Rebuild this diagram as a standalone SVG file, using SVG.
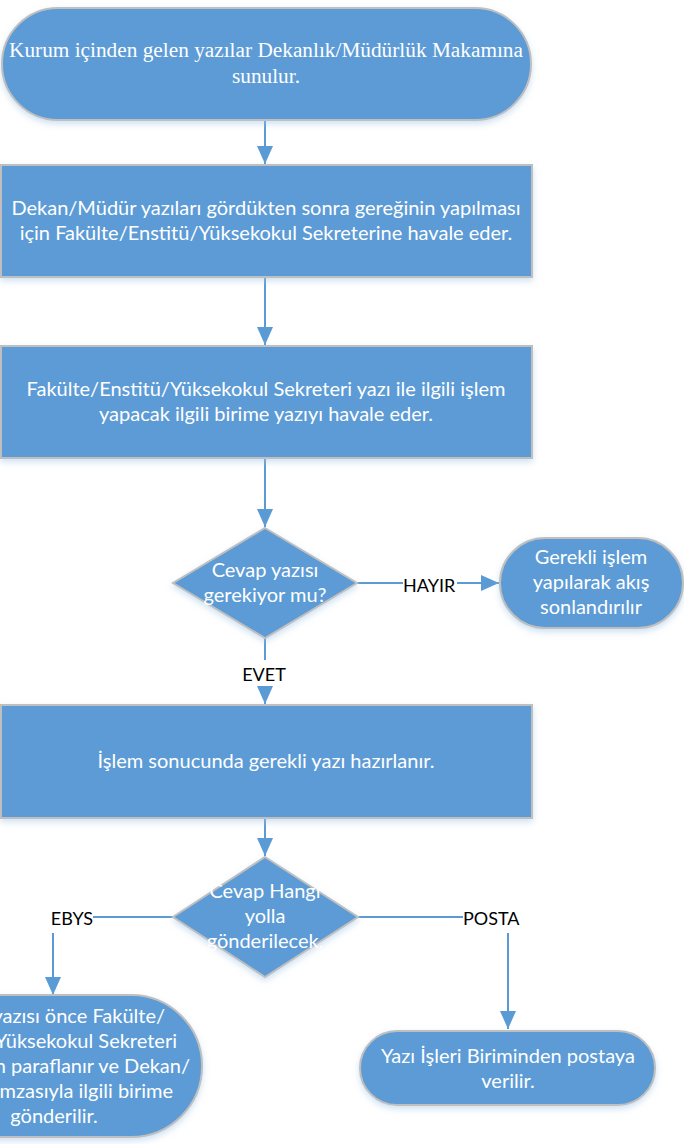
<svg xmlns="http://www.w3.org/2000/svg" width="684" height="1144" viewBox="0 0 684 1144">
<style>
.shape{fill:#5B9BD5;stroke:#BFBFBF;stroke-width:2;filter:url(#sh)}
.t{font-family:Lato,"Liberation Sans",sans-serif;font-size:20px;fill:#FFFFFF;text-anchor:middle}
.te{font-family:Lato,"Liberation Sans",sans-serif;font-size:20px;fill:#FFFFFF;text-anchor:end}
.ts{font-family:"Liberation Serif",serif;font-size:21.3px;fill:#FFFFFF;text-anchor:middle}
.lbl{font-family:Lato,"Liberation Sans",sans-serif;font-size:18px;fill:#000000;dominant-baseline:central}
.c{stroke:#5B9BD5;stroke-width:2;fill:none}
</style>
<defs>
<filter id="sh" x="-10%" y="-10%" width="120%" height="130%">
<feDropShadow dx="0" dy="3" stdDeviation="3" flood-color="#9DC3E6" flood-opacity="0.5"/>
</filter>
<marker id="ah" markerWidth="18" markerHeight="16" refX="18" refY="8" orient="auto" markerUnits="userSpaceOnUse">
<path d="M0,0 L18,8 L0,16 Z" fill="#5B9BD5"/>
</marker>
</defs>
<g id="connectors">
<line class="c" x1="265" y1="121" x2="265" y2="164" marker-end="url(#ah)"/>
<line class="c" x1="265" y1="278" x2="265" y2="345" marker-end="url(#ah)"/>
<line class="c" x1="265" y1="459" x2="265" y2="527" marker-end="url(#ah)"/>
<line class="c" x1="357" y1="583" x2="403" y2="583"/>
<line class="c" x1="457" y1="583" x2="499" y2="583" marker-end="url(#ah)"/>
<text class="lbl" x="403" y="585">HAYIR</text>
<line class="c" x1="265" y1="638" x2="265" y2="660"/>
<text class="lbl" x="264" y="674" text-anchor="middle">EVET</text>
<line class="c" x1="265" y1="688" x2="265" y2="704" marker-end="url(#ah)"/>
<line class="c" x1="265" y1="819" x2="265" y2="856" marker-end="url(#ah)"/>
<line class="c" x1="173" y1="917" x2="93" y2="917"/>
<text class="lbl" x="93" y="918" text-anchor="end">EBYS</text>
<line class="c" x1="53" y1="933" x2="53" y2="995" marker-end="url(#ah)"/>
<line class="c" x1="358" y1="917" x2="463" y2="917"/>
<text class="lbl" x="463" y="918">POSTA</text>
<line class="c" x1="508" y1="933" x2="508" y2="1029" marker-end="url(#ah)"/>
</g>
<g id="n1">
<rect class="shape" x="2" y="8" width="529" height="112" rx="56" ry="56"/>
<text class="ts" x="266" y="57">Kurum içinden gelen yazılar Dekanlık/Müdürlük Makamına</text>
<text class="ts" x="266" y="83">sunulur.</text>
</g>
<g id="n2">
<rect class="shape" x="1" y="165" width="531" height="112"/>
<text class="t" x="266" y="215">Dekan/Müdür yazıları gördükten sonra gereğinin yapılması</text>
<text class="t" x="266" y="240">için Fakülte/Enstitü/Yüksekokul Sekreterine havale eder.</text>
</g>
<g id="n3">
<rect class="shape" x="1" y="346" width="531" height="112"/>
<text class="t" x="266" y="396">Fakülte/Enstitü/Yüksekokul Sekreteri yazı ile ilgili işlem</text>
<text class="t" x="266" y="421">yapacak ilgili birime yazıyı havale eder.</text>
</g>
<g id="d1">
<polygon class="shape" points="265,528 357,583 265,638 173,583"/>
<text class="t" x="265" y="577">Cevap yazısı</text>
<text class="t" x="265" y="602">gerekiyor mu?</text>
</g>
<g id="n_end">
<rect class="shape" x="500" y="538" width="183" height="90" rx="45" ry="45"/>
<text class="t" x="591" y="564">Gerekli işlem</text>
<text class="t" x="591" y="589">yapılarak akış</text>
<text class="t" x="591" y="614">sonlandırılır</text>
</g>
<g id="n4">
<rect class="shape" x="1" y="705" width="531" height="113"/>
<text class="t" x="266" y="768">İşlem sonucunda gerekli yazı hazırlanır.</text>
</g>
<g id="d2">
<polygon class="shape" points="265,857 358,917 265,977 173,917"/>
<text class="t" x="265" y="898">Cevap Hangi</text>
<text class="t" x="265" y="923">yolla</text>
<text class="t" x="265" y="948">gönderilecek.</text>
</g>
<g id="n_ebys">
<rect class="shape" x="-94" y="995" width="296" height="142" rx="71" ry="71"/>
<text class="te" x="165" y="1023">yazısı önce Fakülte/</text>
<text class="te" x="177" y="1048">Yüksekokul Sekreteri</text>
<text class="te" x="190" y="1073">n paraflanır ve Dekan/</text>
<text class="te" x="173" y="1098">mzasıyla ilgili birime</text>
<text class="t" x="54" y="1123">gönderilir.</text>
</g>
<g id="n_posta">
<rect class="shape" x="360" y="1031" width="295" height="74" rx="37" ry="37"/>
<text class="t" x="508" y="1063">Yazı İşleri Biriminden postaya</text>
<text class="t" x="508" y="1088">verilir.</text>
</g>
</svg>
